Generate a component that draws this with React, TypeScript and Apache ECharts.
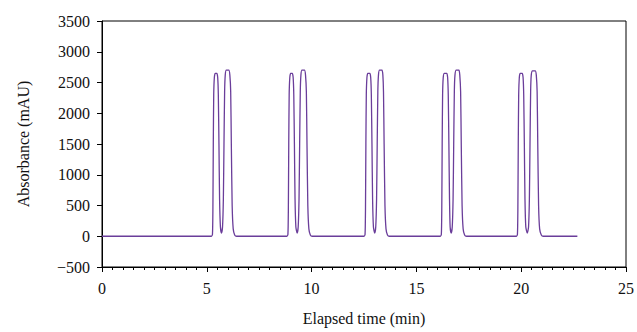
import React, { useEffect, useRef } from "react";
import * as echarts from "echarts";

const xTicks = [0, 5, 10, 15, 20, 25];
const yTicks = [-500, 0, 500, 1000, 1500, 2000, 2500, 3000, 3500];

const leadIn: number[][] = [[0, 0], [5.1, 0]];
const pair1: number[][] = [[5.22,0],[5.27,30],[5.29,400],[5.31,1500],[5.33,2300],[5.36,2580],[5.40,2650],[5.48,2650],[5.52,2580],[5.55,2300],[5.58,1500],[5.61,600],[5.65,150],[5.70,50],[5.75,150],[5.79,600],[5.82,1500],[5.85,2350],[5.88,2620],[5.93,2700],[6.05,2700],[6.10,2620],[6.14,2350],[6.17,1500],[6.21,500],[6.26,120],[6.33,20],[6.42,0]];
const pair2: number[][] = [[8.82,0],[8.87,30],[8.89,400],[8.91,1500],[8.93,2300],[8.96,2580],[9.00,2650],[9.08,2650],[9.12,2580],[9.15,2300],[9.18,1500],[9.21,600],[9.25,150],[9.31,50],[9.36,150],[9.40,600],[9.43,1500],[9.46,2350],[9.49,2620],[9.54,2700],[9.66,2700],[9.71,2620],[9.75,2350],[9.78,1500],[9.82,500],[9.87,120],[9.94,20],[10.03,0]];
const pair3: number[][] = [[12.50,0],[12.55,30],[12.57,400],[12.59,1500],[12.61,2300],[12.64,2580],[12.68,2650],[12.78,2650],[12.82,2580],[12.85,2300],[12.88,1500],[12.91,600],[12.95,150],[13.01,50],[13.06,150],[13.10,600],[13.13,1500],[13.16,2350],[13.19,2620],[13.24,2700],[13.36,2700],[13.40,2620],[13.43,2350],[13.46,1500],[13.50,500],[13.55,120],[13.62,20],[13.71,0]];
const pair4: number[][] = [[16.14,0],[16.19,30],[16.21,400],[16.23,1500],[16.25,2300],[16.28,2580],[16.33,2650],[16.45,2650],[16.49,2580],[16.52,2300],[16.55,1500],[16.58,600],[16.61,150],[16.66,50],[16.71,150],[16.75,600],[16.78,1500],[16.81,2350],[16.84,2620],[16.90,2700],[17.03,2700],[17.07,2620],[17.11,2350],[17.14,1500],[17.18,500],[17.23,120],[17.30,20],[17.39,0]];
const pair5: number[][] = [[19.77,0],[19.82,30],[19.84,400],[19.86,1500],[19.88,2300],[19.91,2580],[19.95,2650],[20.05,2650],[20.09,2580],[20.12,2300],[20.15,1500],[20.18,600],[20.22,150],[20.29,50],[20.35,150],[20.39,600],[20.42,1500],[20.45,2350],[20.48,2620],[20.54,2690],[20.67,2690],[20.72,2620],[20.76,2350],[20.79,1500],[20.83,500],[20.88,120],[20.96,20],[21.05,0]];
const tail: number[][] = [[22.68, 0]];

const FONT = "'Liberation Serif', 'Times New Roman', serif";
const fmt = (v: number) => (v < 0 ? "\u2212" + Math.abs(v) : String(v));

export default function App() {
  const ref = useRef<HTMLDivElement>(null);
  useEffect(() => {
    if (!ref.current) return;
    const chart = echarts.init(ref.current, null, { renderer: "svg" });
    const data = [...leadIn, ...pair1, ...pair2, ...pair3, ...pair4, ...pair5, ...tail];
    chart.setOption({
      animation: false,
      grid: {
        left: 102, right: 11, top: 21, bottom: 65,
        show: true, borderColor: "#000", borderWidth: 1, backgroundColor: "transparent",
      },
      xAxis: {
        type: "value",
        min: xTicks[0], max: xTicks[xTicks.length - 1], interval: 5,
        name: "Elapsed time (min)", nameLocation: "middle", nameGap: 43,
        nameTextStyle: { fontFamily: FONT, fontSize: 16, color: "#111" },
        axisLine: { show: true, onZero: false, lineStyle: { color: "#000", width: 1 } },
        axisTick: { show: true, inside: false, length: 5, lineStyle: { color: "#000" } },
        minorTick: { show: true, splitNumber: 10, length: 3, lineStyle: { color: "#000" } },
        axisLabel: { fontFamily: FONT, fontSize: 16, color: "#111", margin: 13, formatter: fmt },
        splitLine: { show: false },
      },
      yAxis: {
        type: "value",
        min: yTicks[0], max: yTicks[yTicks.length - 1], interval: 500,
        name: "Absorbance (mAU)", nameLocation: "middle", nameGap: 71,
        nameTextStyle: { fontFamily: FONT, fontSize: 16, color: "#111" },
        axisLine: { show: true, onZero: false, lineStyle: { color: "#000", width: 1 } },
        axisTick: { show: true, inside: false, length: 5, lineStyle: { color: "#000" } },
        axisLabel: { fontFamily: FONT, fontSize: 16, color: "#111", margin: 12, formatter: fmt },
        splitLine: { show: false },
      },
      series: [
        {
          type: "line",
          data,
          showSymbol: false,
          smooth: 0.2,
          lineStyle: { color: "#6a3d9a", width: 1.3 },
        },
      ],
    });
    return () => chart.dispose();
  }, []);
  return <div ref={ref} style={{ width: 637, height: 332, position: "absolute", left: 0, top: 0 }} />;
}
